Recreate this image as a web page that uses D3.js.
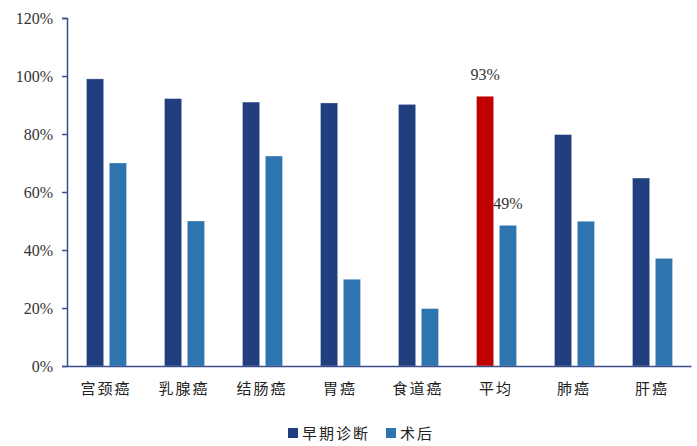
<!DOCTYPE html>
<html><head><meta charset="utf-8">
<script src="https://cdn.jsdelivr.net/npm/d3@7"></script>
<style>body{margin:0;background:#fff;}svg{display:block;}
.serif{font-family:"Liberation Serif","DejaVu Serif",serif;}
.cjk{font-family:"Noto Sans CJK SC","Noto Sans CJK JP",sans-serif;}
</style>
</head><body>
<svg id="c" width="697" height="446"></svg>
<script>
const categories = ["宫颈癌","乳腺癌","结肠癌","胃癌","食道癌","平均","肺癌","肝癌"];
const early = [99, 92.2, 91, 90.7, 90.2, 93, 79.8, 64.8];
const postop = [70, 50, 72.4, 29.9, 19.8, 48.5, 49.9, 37.1];
const seriesNames = ["早期诊断","术后"];
const yTicks = [0,20,40,60,80,100,120];
const highlight = "平均";
const labels = [{cat:"平均", series:0, text:"93%"},{cat:"平均", series:1, text:"49%"}];

const colors = ["#213f7f","#2e74ae"];
const hiColor = "#c00000";
const svg = d3.select("#c");
const x = d3.scaleBand().domain(categories).range([67,691]).paddingInner(0).paddingOuter(0);
const xs = d3.scaleBand().domain([0,1]).range([19.5,59.5]).paddingInner(0.25).paddingOuter(0);
const y = d3.scaleLinear().domain([0,120]).range([366,18]);

// bars
const data = [];
categories.forEach((c,i)=>{data.push({c,s:0,v:early[i]});data.push({c,s:1,v:postop[i]});});
svg.append("g").selectAll("rect").data(data).join("rect")
  .attr("x",d=>x(d.c)+xs(d.s))
  .attr("y",d=>y(d.v))
  .attr("width",xs.bandwidth())
  .attr("height",d=>y(0)-y(d.v))
  .attr("fill",d=>(d.c===highlight&&d.s===0)?hiColor:colors[d.s])
  .attr("stroke","rgba(255,255,255,0.35)").attr("stroke-width",0.8);

// y axis
const yAxis = d3.axisLeft(y).tickValues(yTicks).tickFormat(d=>d+"%").tickSize(5).tickPadding(9);
const gy = svg.append("g").attr("transform","translate(67,0)").call(yAxis);
gy.attr("font-family",null).attr("font-size",null);
gy.select(".domain").attr("stroke","#3d4f8f").attr("stroke-width",1.5);
gy.selectAll(".tick line").attr("stroke","#3d4f8f").attr("stroke-width",1.5);
gy.selectAll(".tick text").attr("class","serif").style("font-size","16px").attr("fill","#333");

// x axis
const xAxis = d3.axisBottom(x).tickSize(0).tickPadding(17);
const gx = svg.append("g").attr("transform","translate(0,366)").call(xAxis);
gx.attr("font-family",null).attr("font-size",null);
gx.select(".domain").attr("stroke","#3d4f8f").attr("stroke-width",1.5);
gx.selectAll(".tick text").attr("class","cjk").style("font-size","15px").attr("fill","#222").style("letter-spacing","2px");

// data labels
svg.append("g").selectAll("text").data(labels).join("text")
  .attr("class","serif")
  .attr("x",d=>x(d.cat)+xs(d.series)+xs.bandwidth()/2)
  .attr("y",d=>{const i=categories.indexOf(d.cat);const v=d.series===0?early[i]:postop[i];return y(v)-16;})
  .attr("text-anchor","middle")
  .style("font-size","16px").attr("fill","#333")
  .text(d=>d.text);

// legend
const leg = svg.append("g").attr("transform","translate(288,433)");
const legX = [0,98];
seriesNames.forEach((n,i)=>{
  const g = leg.append("g").attr("transform",`translate(${legX[i]},0)`);
  g.append("rect").attr("x",0).attr("y",-5).attr("width",10).attr("height",10).attr("fill",colors[i]);
  g.append("text").attr("class","cjk").attr("x",14).attr("y",5.5).style("font-size","15px").attr("fill","#222").style("letter-spacing","2px").text(n);
});
</script>
</body></html>
